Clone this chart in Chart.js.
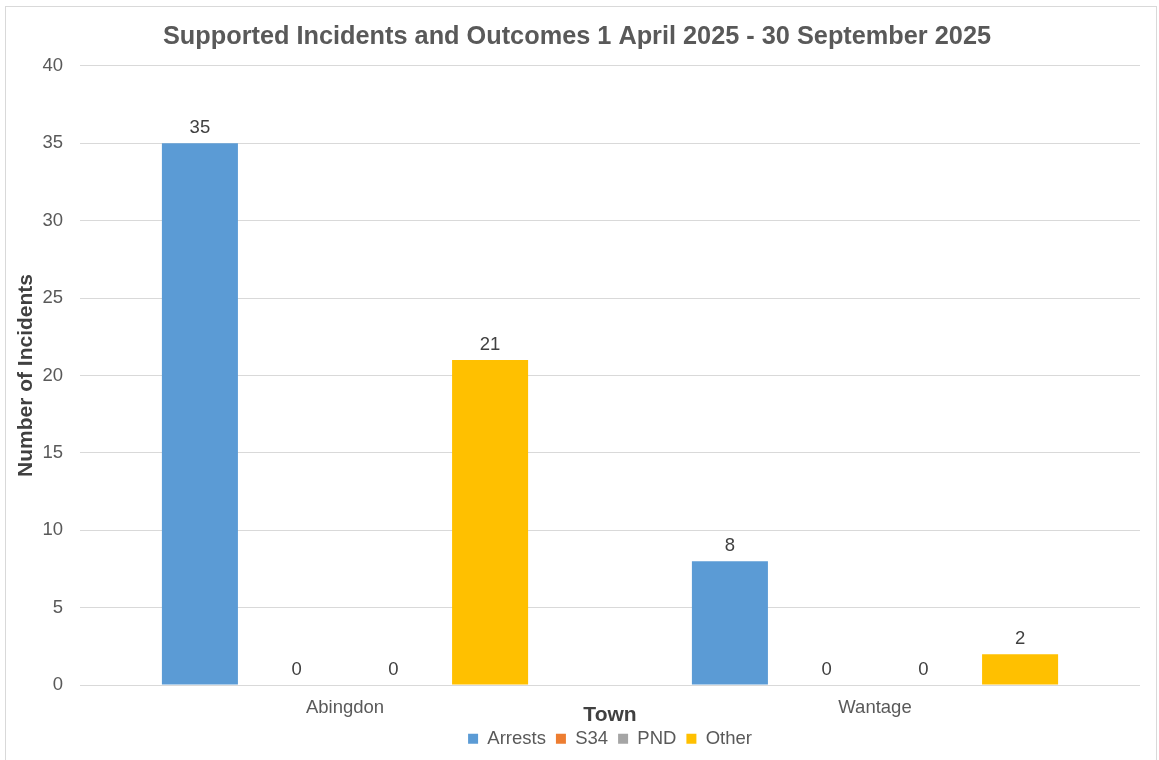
<!DOCTYPE html>
<html>
<head>
<meta charset="utf-8">
<title>Supported Incidents and Outcomes</title>
<script src="https://cdn.jsdelivr.net/npm/chart.js@4/dist/chart.umd.min.js"></script>
<style>
  html, body { margin: 0; padding: 0; background: #fff; overflow: hidden; }
  #wrap { position: absolute; left: 0; top: 0; width: 1159px; height: 760px; }
  #frame { position: absolute; left: 5px; top: 6px; width: 1150px; height: 770px;
           border: 1px solid #d9d9d9; pointer-events: none; }
</style>
</head>
<body>
<div id="wrap">
  <canvas id="incidents-chart" width="1159" height="760"></canvas>
</div>
<div id="frame"></div>
<script>
    // Towns and outcome counts
    const towns = ['Abingdon', 'Wantage'];
    const arrests = [35, 8];
    const s34 = [0, 0];
    const pnd = [0, 0];
    const other = [21, 2];

    // y axis ticks
    const yMin = 0;
    const yMax = 40;
    const yStep = 5;

    const FONT = '"Liberation Sans", Arial, sans-serif';

    // Value labels above each bar (zeros included)
    const barValueLabels = {
        id: 'barValueLabels',
        afterDatasetsDraw(chart) {
            const ctx = chart.ctx;
            ctx.save();
            ctx.font = '18.5px ' + FONT;
            ctx.fillStyle = '#404040';
            ctx.textAlign = 'center';
            ctx.textBaseline = 'alphabetic';
            chart.data.datasets.forEach((ds, i) => {
                const meta = chart.getDatasetMeta(i);
                meta.data.forEach((bar, j) => {
                    ctx.fillText(String(ds.data[j]), bar.x, bar.y - 10);
                });
            });
            ctx.restore();
        }
    };

    const ctx = document.getElementById('incidents-chart').getContext('2d');
    const chart = new Chart(ctx, {
        type: 'bar',
        data: {
            labels: towns,
            datasets: [
                { label: 'Arrests', data: arrests, backgroundColor: '#5b9bd5' },
                { label: 'S34', data: s34, backgroundColor: '#ed7d31' },
                { label: 'PND', data: pnd, backgroundColor: '#a5a5a5' },
                { label: 'Other', data: other, backgroundColor: '#ffc000' }
            ]
        },
        options: {
            responsive: false,
            animation: false,
            categoryPercentage: 0.73,
            barPercentage: 0.786,
            layout: {
                padding: { left: 14, right: 19, top: 12, bottom: 2 }
            },
            scales: {
                x: {
                    grid: { display: false, drawTicks: false },
                    border: { display: false },
                    ticks: {
                        color: '#595959',
                        font: { family: FONT, size: 18.5 },
                        padding: 12
                    },
                    title: {
                        display: true,
                        text: 'Town',
                        color: '#404040',
                        font: { family: FONT, size: 21, weight: 'bold' },
                        padding: { top: -29, bottom: -8 }
                    }
                },
                y: {
                    min: yMin,
                    max: yMax,
                    afterFit(scale) { scale.width = 66; },
                    grid: { color: '#d9d9d9', drawTicks: false },
                    border: { display: false },
                    ticks: {
                        stepSize: yStep,
                        color: '#595959',
                        font: { family: FONT, size: 18.5 },
                        padding: 17
                    },
                    title: {
                        display: true,
                        text: 'Number of Incidents',
                        color: '#404040',
                        font: { family: FONT, size: 21, weight: 'bold' },
                        padding: { top: 0, bottom: 0 }
                    }
                }
            },
            plugins: {
                title: {
                    display: true,
                    text: 'Supported Incidents and Outcomes 1 April 2025 - 30 September 2025',
                    color: '#595959',
                    font: { family: FONT, size: 25.3, weight: 'bold' },
                    padding: { top: 10, bottom: 13.6 }
                },
                legend: {
                    position: 'bottom',
                    fullSize: false,
                    labels: {
                        color: '#595959',
                        font: { family: FONT, size: 18.5 },
                        boxWidth: 10,
                        boxHeight: 10,
                        padding: 10
                    }
                },
                tooltip: { enabled: false }
            }
        },
        plugins: [barValueLabels]
    });
</script>
</body>
</html>
